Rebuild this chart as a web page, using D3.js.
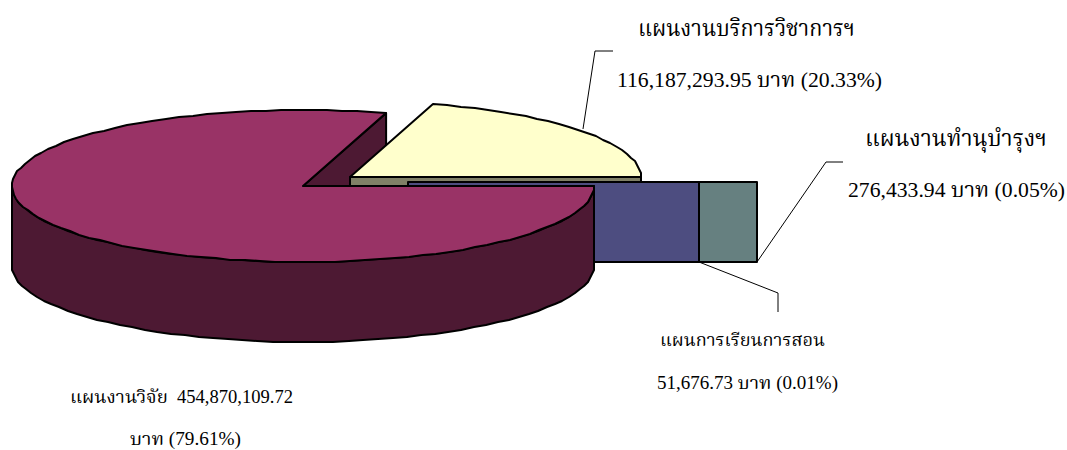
<!DOCTYPE html>
<html><head><meta charset="utf-8">
<script src="https://cdn.jsdelivr.net/npm/d3@7/dist/d3.min.js"></script>
<style>html,body{margin:0;padding:0;background:#fff}svg{display:block}
text{font-family:"Liberation Serif","Times New Roman","Noto Serif Thai","Norasi",serif;fill:#000;font-weight:normal}</style>
</head><body><svg id="c" width="1067" height="450"></svg>
<script>
const names = ["แผนงานวิจัย","แผนงานบริการวิชาการฯ","แผนงานทำนุบำรุงฯ","แผนการเรียนการสอน"];
const values = [454870109.72,116187293.95,276433.94,51676.73];
const topColors = ["#993366","#FFFFCC","#CCFFFF","#9999FF"];
const sideColors = ["#4D1933","#808066","#668080","#4D4D80"];
const centres = [[303,186],[350,177],[466,182],[408,182]];
const labelLines = [
 ["แผนงานบริการวิชาการฯ",746.5,36,23,217],
 ["116,187,293.95 บาท (20.33%)",749.5,87,22,265],
 ["แผนงานทำนุบำรุงฯ",956,146,23,182],
 ["276,433.94 บาท (0.05%)",956.5,197,22,217],
 ["แผนการเรียนการสอน",742.5,346,18,165],
 ["51,676.73 บาท (0.01%)",747.5,389,18,181],
 ["แผนงานวิจัย  454,870,109.72",181.5,403,18,223],
 ["บาท (79.61%)",185.5,445,18,111]
];
const leaders = [
 [[583,129],[595,51],[613,51]],
 [[757,262],[826,162],[843,162]],
 [[699,262],[778,293],[778,312]]
];
const RX=291, RY=76, DEPTH=80;
const svg=d3.select("#c");
const order=[0,1,2,3];
const pie=d3.pie().value(d=>values[d]).sort(null)
  .startAngle(Math.PI/2+0.0001).endAngle(Math.PI/2+0.0001+2*Math.PI);
const arcs=pie(order);
const pt=(i,a,dz=0)=>{const [cx,cy]=centres[i];
  return [cx+RX*Math.sin(a),cy-RY*Math.cos(a)+dz];};
// rim sampled coarsely and snapped to pixels, like the source's bumpy outline
const rim=(i,a0,a1,dz=0)=>{
  const n=Math.max(1,Math.ceil((a1-a0)/(Math.PI/60)));
  return d3.range(n+1).map(k=>{const p=pt(i,a0+(a1-a0)*k/n,dz);
    return [Math.round(p[0]),Math.round(p[1])];});
};
const line=d3.line();
const draw=(pts,fill,sw=2)=>svg.append("path").attr("d",line(pts)+"Z")
  .attr("fill",fill).attr("stroke","#000").attr("stroke-width",sw).attr("stroke-linejoin","round");

// leader lines
leaders.forEach(l=>svg.append("path").attr("d",line(l)).attr("fill","none").attr("stroke","#000").attr("stroke-width",1));

// wedge: inner cut face of the large slice
const a=arcs[0], cP=centres[0], endP=pt(0,a.endAngle), endB=pt(0,a.endAngle,DEPTH);
draw([cP,endP,endB,[cP[0],cP[1]+DEPTH]],sideColors[0]);

// second slice
{const s=arcs[1], c=centres[1], e=pt(1,Math.PI/2);
 draw([c,e,[e[0],e[1]+DEPTH],[c[0],c[1]+DEPTH]],sideColors[1]);
 draw([c,...rim(1,s.startAngle,s.endAngle)],topColors[1]);}

// thin slices, seen only by their cut faces
[2,3].forEach(i=>{const s=arcs[i], c=centres[i], e=pt(i,s.startAngle);
 draw([[c[0],c[1]],[e[0],c[1]],[e[0],c[1]+DEPTH],[c[0],c[1]+DEPTH]],sideColors[i]);});

// large slice outer wall and top
{const front=rim(0,Math.PI/2+0.0001,3*Math.PI/2);
 const lower=rim(0,Math.PI/2+0.0001,3*Math.PI/2,DEPTH).reverse();
 draw([...front,...lower],sideColors[0]);
 draw([cP,...rim(0,a.startAngle,a.endAngle)],topColors[0]);}

// labels
svg.selectAll("text.l").data(labelLines).join("text").attr("class","l")
 .attr("x",d=>d[1]).attr("y",d=>d[2]).attr("font-size",d=>d[3])
 .attr("text-anchor","middle").attr("xml:space","preserve")
 .attr("textLength",d=>d[4]).attr("lengthAdjust","spacingAndGlyphs").text(d=>d[0]);
</script></body></html>
